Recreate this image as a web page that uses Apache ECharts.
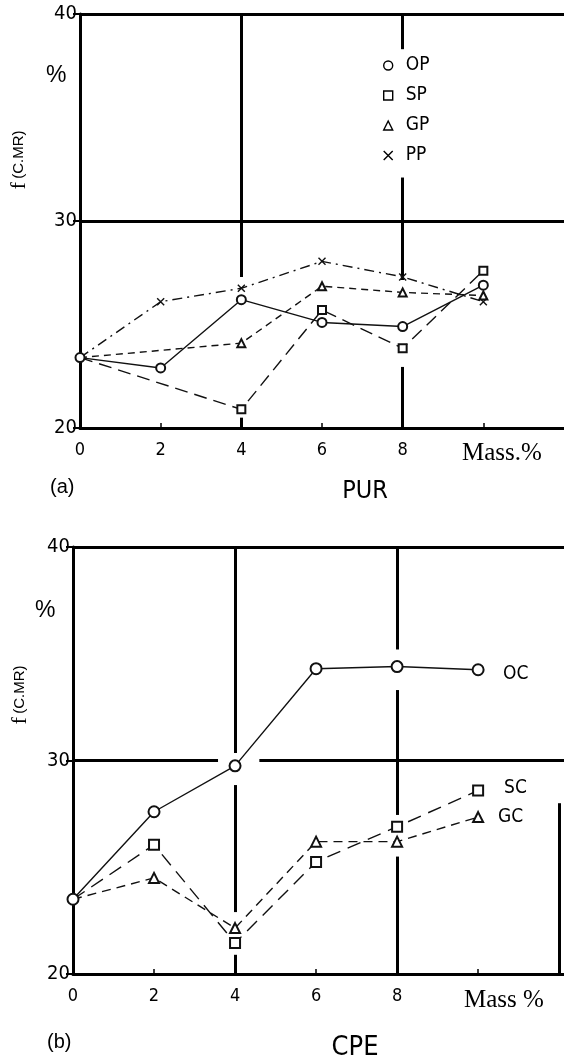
<!DOCTYPE html>
<html><head><meta charset="utf-8">
<script src="https://cdn.jsdelivr.net/npm/echarts@6/dist/echarts.min.js"></script>
<style>html,body{margin:0;padding:0;background:#fff}#c{width:564px;height:1061px}</style>
</head><body><div id="c"></div>
<script>
// ---------- data ----------
const massTicks = [0, 2, 4, 6, 8];
const yTicks = [20, 30, 40];
// (a) PUR
const puX = [0, 2, 4, 6, 8, 10];
const OP = [23.4, 22.9, 26.2, 25.1, 24.9, 26.9];
const spX = [0, 4, 6, 8, 10];
const SP = [23.4, 20.9, 25.7, 23.85, 27.6];
const gpX = [0, 4, 6, 8, 10];
const GP = [23.4, 24.1, 26.85, 26.55, 26.4];
const ppX = [0, 2, 4, 6, 8, 10];
const PP = [23.4, 26.1, 26.75, 28.05, 27.3, 26.1];
// (b) CPE
const cpX = [0, 2, 4, 6, 8, 10];
const OC = [23.5, 27.6, 29.75, 34.3, 34.4, 34.25];
const SC = [23.5, 26.05, 21.45, 25.25, 26.9, 28.6];
const GC = [23.5, 24.5, 22.15, 26.2, 26.2, 27.35];

// ---------- styling ----------
const NARROW = "'Liberation Sans Narrow','DejaVu Sans Condensed',sans-serif";
const SANS = "'Liberation Sans','DejaVu Sans',sans-serif";
const SERIF = "'Liberation Serif','DejaVu Serif',serif";
const INK = '#111';
const X_SYM = 'path://M0,0L10,10M10,0L0,10';

function pts(xs, ys, hideFirst) {
  return xs.map((x, i) => (hideFirst && i === 0) ? { value: [x, ys[i]], symbol: 'none' } : [x, ys[i]]);
}
function seg(a, b) { return [{ coord: a }, { coord: b }]; }

function frameSeries(idx, segments) {
  return {
    type: 'line', xAxisIndex: idx, yAxisIndex: idx, data: [[0, 20]], symbol: 'none', silent: true,
    lineStyle: { opacity: 0 }, z: 1,
    markLine: {
      silent: true, symbol: ['none', 'none'], animation: false,
      label: { show: false },
      lineStyle: { color: '#000', width: 3, type: 'solid' },
      emphasis: { disabled: true },
      data: segments
    }
  };
}

function dataSeries(name, idx, data, sym, size, dash, extra) {
  return Object.assign({
    name, type: 'line', xAxisIndex: idx, yAxisIndex: idx, data,
    symbol: sym, symbolSize: size, showSymbol: true, z: 5,
    lineStyle: { color: INK, width: 1.4, type: dash },
    itemStyle: { color: INK, borderColor: INK, borderWidth: 1.4 },
    emphasis: { disabled: true }
  }, extra || {});
}

const xMaxA = 12, xMaxB = 12.12;
function xAxis(idx, max) {
  return {
    type: 'value', gridIndex: idx, min: 0, max, interval: 2,
    axisLine: { show: true, onZero: false, lineStyle: { color: '#000', width: 3 } },
    axisTick: { show: true, inside: true, length: 5, lineStyle: { color: '#000', width: 1.5 } },
    splitLine: { show: false },
    axisLabel: {
      margin: 13, fontSize: 18, fontFamily: NARROW, color: '#000', showMaxLabel: false,
      formatter: v => massTicks.includes(v) ? String(v) : ''
    }
  };
}
function yAxis(idx) {
  return {
    type: 'value', gridIndex: idx, min: 20, max: 40, interval: 10,
    axisLine: { show: true, lineStyle: { color: '#000', width: 3 } },
    axisTick: { show: true, length: 7, lineStyle: { color: '#000', width: 2 } },
    splitLine: { show: false },
    axisLabel: { margin: 3, fontSize: 20, fontFamily: NARROW, color: '#000',
      formatter: v => yTicks.includes(v) ? String(v) : '' }
  };
}

const chart = echarts.init(document.getElementById('c'), null, { renderer: 'canvas' });
const option = {
  animation: false,
  backgroundColor: '#fff',
  grid: [
    { left: 80, top: 14, width: 484, height: 414 },
    { left: 73, top: 547, width: 491, height: 427 }
  ],
  xAxis: [xAxis(0, xMaxA), xAxis(1, xMaxB)],
  yAxis: [yAxis(0), yAxis(1)],
  legend: {
    left: 383, top: 56, orient: 'vertical', padding: 0,
    itemWidth: 9, itemHeight: 9, itemGap: 11, selectedMode: false,
    itemStyle: { color: '#fff', borderColor: '#000', borderWidth: 1.4 },
    textStyle: { fontSize: 19, fontFamily: NARROW, color: '#000', padding: [0, 0, 0, 8] },
    data: [
      { name: 'OP', icon: 'circle' },
      { name: 'SP', icon: 'rect' },
      { name: 'GP', icon: 'triangle' },
      { name: 'PP', icon: X_SYM }
    ]
  },
  series: [
    frameSeries(0, [
      seg([0, 40], [xMaxA, 40]),
      seg([0, 30], [xMaxA, 30]),
      seg([4, 40], [4, 27.3]), seg([4, 20.5], [4, 20]),
      seg([8, 40], [8, 38.3]), seg([8, 32.1], [8, 27.15]), seg([8, 22.95], [8, 20])
    ]),
    frameSeries(1, [
      seg([0, 40], [xMaxB, 40]),
      seg([0, 30], [3.58, 30]), seg([4.6, 30], [xMaxB, 30]),
      seg([4, 40], [4, 30.35]), seg([4, 28.85], [4, 22.9]), seg([4, 20.9], [4, 20]),
      seg([8, 40], [8, 35.2]), seg([8, 33.3], [8, 27.45]), seg([8, 25.5], [8, 20]),
      seg([12, 28], [12, 20])
    ]),
    dataSeries('OP', 0, pts(puX, OP, false), 'emptyCircle', 9, 'solid'),
    dataSeries('SP', 0, pts(spX, SP, true), 'emptyRect', 8, [13, 7]),
    dataSeries('GP', 0, pts(gpX, GP, true), 'emptyTriangle', 8, [7, 5]),
    dataSeries('PP', 0, pts(ppX, PP, true), X_SYM, 7, [10, 5, 2, 5]),
    dataSeries('OC', 1, pts(cpX, OC, false), 'emptyCircle', 11, 'solid', {
      endLabel: { show: true, formatter: '{a}', distance: 25, offset: [0, 4], fontSize: 19, fontFamily: NARROW, color: '#000' }
    }),
    dataSeries('SC', 1, pts(cpX, SC, true), 'emptyRect', 10, [14, 8], {
      endLabel: { show: true, formatter: '{a}', distance: 26, offset: [0, -2], fontSize: 19, fontFamily: NARROW, color: '#000' }
    }),
    dataSeries('GC', 1, pts(cpX, GC, true), 'emptyTriangle', 10, [9, 6], {
      endLabel: { show: true, formatter: '{a}', distance: 20, fontSize: 19, fontFamily: NARROW, color: '#000' }
    })
  ],
  graphic: [
    { type: 'text', left: 46, top: 64, style: { text: '%', fontSize: 23, fontFamily: SANS, fill: '#000' } },
    { type: 'text', x: 19, y: 160, rotation: Math.PI / 2, style: {
      text: '{f|f} {s|(C.MR)}', align: 'center', verticalAlign: 'middle',
      rich: { f: { fontSize: 22, fontFamily: SERIF, fill: '#000' }, s: { fontSize: 15, fontFamily: SANS, fill: '#000' } } } },
    { type: 'text', x: 462, y: 453, style: { text: 'Mass.%', fontSize: 25, fontFamily: SERIF, fill: '#000', verticalAlign: 'middle' } },
    { type: 'text', x: 50, y: 487, style: { text: '(a)', fontSize: 20, fontFamily: SANS, fill: '#000', verticalAlign: 'middle' } },
    { type: 'text', x: 365, y: 491, style: { text: 'PUR', fontSize: 25, fontFamily: NARROW, fill: '#000', align: 'center', verticalAlign: 'middle' } },

    { type: 'text', left: 35, top: 599, style: { text: '%', fontSize: 23, fontFamily: SANS, fill: '#000' } },
    { type: 'text', x: 20, y: 695, rotation: Math.PI / 2, style: {
      text: '{f|f} {s|(C.MR)}', align: 'center', verticalAlign: 'middle',
      rich: { f: { fontSize: 22, fontFamily: SERIF, fill: '#000' }, s: { fontSize: 15, fontFamily: SANS, fill: '#000' } } } },
    { type: 'text', x: 464, y: 1000, style: { text: 'Mass %', fontSize: 25, fontFamily: SERIF, fill: '#000', verticalAlign: 'middle' } },
    { type: 'text', x: 47, y: 1042, style: { text: '(b)', fontSize: 20, fontFamily: SANS, fill: '#000', verticalAlign: 'middle' } },
    { type: 'text', x: 355, y: 1048, style: { text: 'CPE', fontSize: 27, fontFamily: NARROW, fill: '#000', align: 'center', verticalAlign: 'middle' } }
  ]
};
chart.setOption(option);
</script>
</body></html>
